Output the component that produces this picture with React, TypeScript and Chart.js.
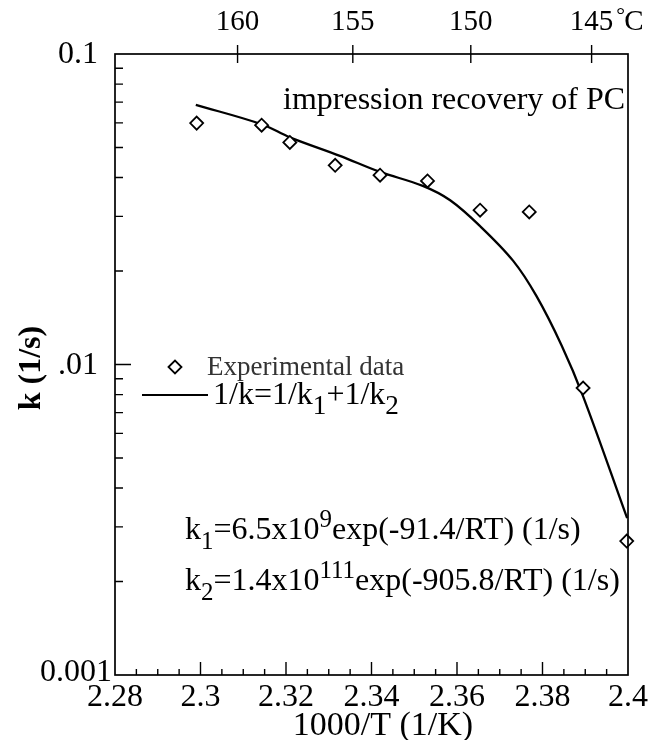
import React, { useEffect, useRef } from "react";
import { Chart, registerables } from "chart.js";

Chart.register(...registerables);

// ---- data ----
const expX = [2.2991, 2.3143, 2.3209, 2.3315, 2.342, 2.3531, 2.3654, 2.3769, 2.3895, 2.3997];
const expK = [0.0599, 0.059, 0.0519, 0.0438, 0.0407, 0.039, 0.0314, 0.031, 0.0084, 0.0027];

const fitX = [2.2989, 2.3143, 2.3209, 2.3326, 2.342, 2.352, 2.3584, 2.3654, 2.3731, 2.3786, 2.3845, 2.3895, 2.3998];
const fitK = [0.0686, 0.0594, 0.0539, 0.047, 0.0417, 0.0376, 0.0338, 0.0279, 0.0216, 0.0166, 0.0115, 0.0079, 0.0032];

const xMin = 2.28;
const xMax = 2.4;
const xMajorStep = 0.02;
const xMinorStep = 0.005;
const yMin = 0.001;
const yMax = 0.1;
const yLabelValues = [0.001, 0.01, 0.1];
const yLabelTexts = ["0.001", ".01", "0.1"];
const tempC = [160, 155, 150, 145];
const tempLabels = ["160", "155", "150", "145"];

const titleText = "impression recovery of PC";
const legendExp = "Experimental data";
const xTitle = "1000/T (1/K)";
const yTitle = "k (1/s)";

const SERIF = "'Liberation Serif', 'Times New Roman', serif";

type Part = [string, number]; // 0 normal, 1 sub, 2 sup

function drawRich(ctx: CanvasRenderingContext2D, x: number, y: number, parts: Part[], size: number, subScale = 0.78) {
  let cx = x;
  for (const [t, kind] of parts) {
    const s = kind === 0 ? size : size * subScale;
    ctx.font = `${s}px ${SERIF}`;
    const dy = kind === 1 ? size * 0.32 : kind === 2 ? -size * 0.36 : 0;
    ctx.fillText(t, cx, y + dy);
    cx += ctx.measureText(t).width;
  }
}

const decor = {
  id: "decor",
  afterDraw(chart: any) {
    const ctx: CanvasRenderingContext2D = chart.ctx;
    const a = chart.chartArea;
    const xs = chart.scales.x;
    const ys = chart.scales.y;
    ctx.save();
    ctx.strokeStyle = "#000";
    ctx.fillStyle = "#000";
    ctx.lineWidth = 1.7;
    // frame
    ctx.strokeRect(a.left, a.top, a.right - a.left, a.bottom - a.top);

    // left inward ticks (log minor)
    ctx.lineWidth = 1.4;
    ctx.beginPath();
    for (const d of [0.001, 0.01]) {
      for (let m = 1; m <= 9; m++) {
        const v = m * d;
        if (v <= yMin || v >= yMax) continue;
        const py = ys.getPixelForValue(v);
        const len = m === 1 ? 16 : 8;
        ctx.moveTo(a.left, py);
        ctx.lineTo(a.left + len, py);
      }
    }
    ctx.stroke();

    // bottom inward ticks
    ctx.beginPath();
    const n = Math.round((xMax - xMin) / xMinorStep);
    for (let i = 1; i < n; i++) {
      const v = xMin + i * xMinorStep;
      const px = xs.getPixelForValue(v);
      const major = i % Math.round(xMajorStep / xMinorStep) === 0;
      const len = major ? 13 : 6;
      ctx.moveTo(px, a.bottom);
      ctx.lineTo(px, a.bottom - len);
    }
    ctx.stroke();

    // top crossing ticks at temperatures
    ctx.beginPath();
    for (const t of tempC) {
      const px = xs.getPixelForValue(1000 / (t + 273.15));
      ctx.moveTo(px, a.top - 9);
      ctx.lineTo(px, a.top + 9);
    }
    ctx.stroke();

    // y tick labels
    ctx.font = `32px ${SERIF}`;
    ctx.textAlign = "right";
    ctx.textBaseline = "middle";
    yLabelValues.forEach((v, i) => {
      const py = ys.getPixelForValue(v);
      const last = v === yMin;
      ctx.fillText(yLabelTexts[i], last ? a.left - 3 : a.left - 17, last ? py - 2 : py + 1);
    });

    // top labels
    ctx.textAlign = "center";
    ctx.font = `29px ${SERIF}`;
    tempC.forEach((t, i) => {
      const px = xs.getPixelForValue(1000 / (t + 273.15));
      ctx.fillText(tempLabels[i], px, 22);
    });
    // degree unit after the last label
    const lastPx = xs.getPixelForValue(1000 / (tempC[tempC.length - 1] + 273.15));
    const w145 = ctx.measureText(tempLabels[tempLabels.length - 1]).width;
    ctx.textAlign = "left";
    ctx.font = `22px ${SERIF}`;
    const degX = lastPx + w145 / 2 + 3;
    ctx.fillText("\u00B0", degX, 16);
    const degW = ctx.measureText("\u00B0").width;
    ctx.font = `29px ${SERIF}`;
    ctx.fillText("C", degX + degW - 1, 22);

    ctx.textBaseline = "alphabetic";
    // title
    ctx.font = `32px ${SERIF}`;
    ctx.fillText(titleText, 283, 109);

    // legend: experimental
    const lx = 175, ly = 367;
    ctx.lineWidth = 1.8;
    ctx.beginPath();
    ctx.moveTo(lx - 6.5, ly);
    ctx.lineTo(lx, ly - 6.5);
    ctx.lineTo(lx + 6.5, ly);
    ctx.lineTo(lx, ly + 6.5);
    ctx.closePath();
    ctx.fillStyle = "#fff";
    ctx.fill();
    ctx.stroke();
    ctx.fillStyle = "#333";
    ctx.font = `27px ${SERIF}`;
    ctx.fillText(legendExp, 207, 375);

    // legend: fit line
    ctx.fillStyle = "#000";
    ctx.lineWidth = 2.2;
    ctx.beginPath();
    ctx.moveTo(142, 395);
    ctx.lineTo(208, 395);
    ctx.stroke();
    drawRich(ctx, 213, 404, [["1/k=1/k", 0], ["1", 1], ["+1/k", 0], ["2", 1]], 32, 0.85);

    // equations
    drawRich(ctx, 185, 539, [["k", 0], ["1", 1], ["=6.5x10", 0], ["9", 2], ["exp(-91.4/RT) (1/s)", 0]], 32);
    drawRich(ctx, 185, 590, [["k", 0], ["2", 1], ["=1.4x10", 0], ["111", 2], ["exp(-905.8/RT) (1/s)", 0]], 32);

    // axis titles
    ctx.textAlign = "center";
    ctx.textBaseline = "middle";
    ctx.font = `34px ${SERIF}`;
    ctx.fillText(xTitle, 383, 726);
    ctx.save();
    ctx.translate(32, 368);
    ctx.rotate(-Math.PI / 2);
    ctx.font = `bold 32px ${SERIF}`;
    ctx.fillText(yTitle, 0, 0);
    ctx.restore();

    ctx.restore();
  },
};

export default function App() {
  const ref = useRef<HTMLCanvasElement | null>(null);
  useEffect(() => {
    document.body.style.margin = "0";
    const canvas = ref.current!;
    const chart = new Chart(canvas, {
      type: "scatter",
      data: {
        datasets: [
          {
            label: "Experimental data",
            data: expX.map((x, i) => ({ x, y: expK[i] })),
            showLine: false,
            pointStyle: "rectRot",
            pointRadius: 6.5,
            pointBorderWidth: 1.8,
            pointBorderColor: "#000",
            pointBackgroundColor: "#fff",
            clip: false as any,
            order: 0,
          },
          {
            label: "1/k=1/k1+1/k2",
            data: fitX.map((x, i) => ({ x, y: fitK[i] })),
            showLine: true,
            borderColor: "#000",
            borderWidth: 2.3,
            pointRadius: 0,
            tension: 0.35,
            order: 1,
          },
        ],
      },
      options: {
        responsive: false,
        animation: false,
        devicePixelRatio: 1,
        layout: { padding: { left: 0, right: 26, top: 0, bottom: 0 } },
        plugins: { legend: { display: false }, tooltip: { enabled: false }, title: { display: false } },
        scales: {
          x: {
            type: "linear",
            position: "bottom",
            min: xMin,
            max: xMax,
            grid: { display: false },
            border: { display: false },
            afterBuildTicks: (s: any) => {
              const t = [];
              for (let i = 0; i <= Math.round((xMax - xMin) / xMajorStep); i++) t.push({ value: xMin + i * xMajorStep });
              s.ticks = t;
            },
            afterFit: (s: any) => {
              s.height = 65;
            },
            ticks: {
              color: "#000",
              padding: -5,
              maxRotation: 0,
              autoSkip: false,
              font: { family: SERIF, size: 32 },
              callback: (v: any) => String(Number(Number(v).toFixed(2))),
            },
          },
          x2: {
            type: "linear",
            position: "top",
            min: xMin,
            max: xMax,
            display: true,
            grid: { display: false },
            border: { display: false },
            afterFit: (s: any) => {
              s.height = 54;
            },
            ticks: { display: false },
          },
          y: {
            type: "logarithmic",
            min: yMin,
            max: yMax,
            grid: { display: false },
            border: { display: false },
            afterFit: (s: any) => {
              s.width = 115;
            },
            ticks: { display: false },
          },
        },
      },
      plugins: [decor],
    } as any);
    return () => chart.destroy();
  }, []);
  return (
    <div style={{ position: "absolute", left: 0, top: 0, width: 654, height: 740, background: "#fff" }}>
      <canvas ref={ref} width={654} height={740} />
    </div>
  );
}
